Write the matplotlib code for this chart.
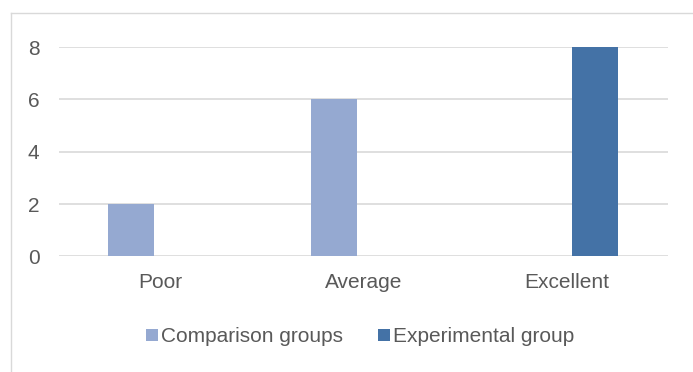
import matplotlib
matplotlib.use("Agg")
import matplotlib.pyplot as plt
from matplotlib.patches import Patch
from matplotlib.lines import Line2D
import numpy as np

categories = ["Poor", "Average", "Excellent"]
series_names = ["Comparison groups", "Experimental group"]
comparison = [2, 6, 0]
experimental = [0, 0, 8]
y_ticks = [0, 2, 4, 6, 8]

plt.rcParams["font.family"] = ["Liberation Sans", "DejaVu Sans"]
text_color = "#595959"
grid_color = "#d9d9d9"
colors = ["#95a9d1", "#4472a6"]

W, H = 693, 372
fig = plt.figure(figsize=(W / 100, H / 100), dpi=100)
fig.patch.set_facecolor("white")

# chart area frame (top and left edges)
fig.add_artist(Line2D([10.5 / W, 1.0], [1 - 12.5 / H, 1 - 12.5 / H],
                      transform=fig.transFigure, color=grid_color, lw=1.0))
fig.add_artist(Line2D([10.5 / W, 10.5 / W], [1 - 12.5 / H, 0.0],
                      transform=fig.transFigure, color=grid_color, lw=1.0))

left, right = 59 / W, 667.7 / W
bottom, top = 1 - 256.3 / H, 1 - 47.1 / H
ax = fig.add_axes([left, bottom, right - left, top - bottom])

x = np.arange(len(categories))
width = 0.227
offset = 0.143
ax.bar(x - offset, comparison, width, color=colors[0], linewidth=0, zorder=3)
ax.bar(x + offset, experimental, width, color=colors[1], linewidth=0, zorder=3)

ax.set_xlim(-0.5, len(categories) - 0.5)
ax.set_ylim(0, 8)
ax.set_yticks(y_ticks)
ax.set_yticklabels([str(t) for t in y_ticks])
ax.set_xticks(x)
ax.set_xticklabels(categories)
ax.yaxis.grid(True, color=grid_color, linewidth=1.2, zorder=0)
ax.set_axisbelow(True)
for s in ax.spines.values():
    s.set_visible(False)
ax.tick_params(axis="y", length=0, pad=14, labelsize=15, labelcolor=text_color)
ax.tick_params(axis="x", length=0, pad=12, labelsize=15, labelcolor=text_color)

handles = [Patch(facecolor=colors[0], edgecolor="none"),
           Patch(facecolor=colors[1], edgecolor="none")]
leg = fig.legend(handles, series_names, loc="center",
                 bbox_to_anchor=(360 / W, 1 - 337 / H), ncol=2, frameon=False,
                 fontsize=15, handlelength=0.58, handleheight=0.55,
                 handletextpad=0.12, columnspacing=1.7, borderpad=0)
for t in leg.get_texts():
    t.set_color(text_color)

fig.savefig("out.png", dpi=100)
